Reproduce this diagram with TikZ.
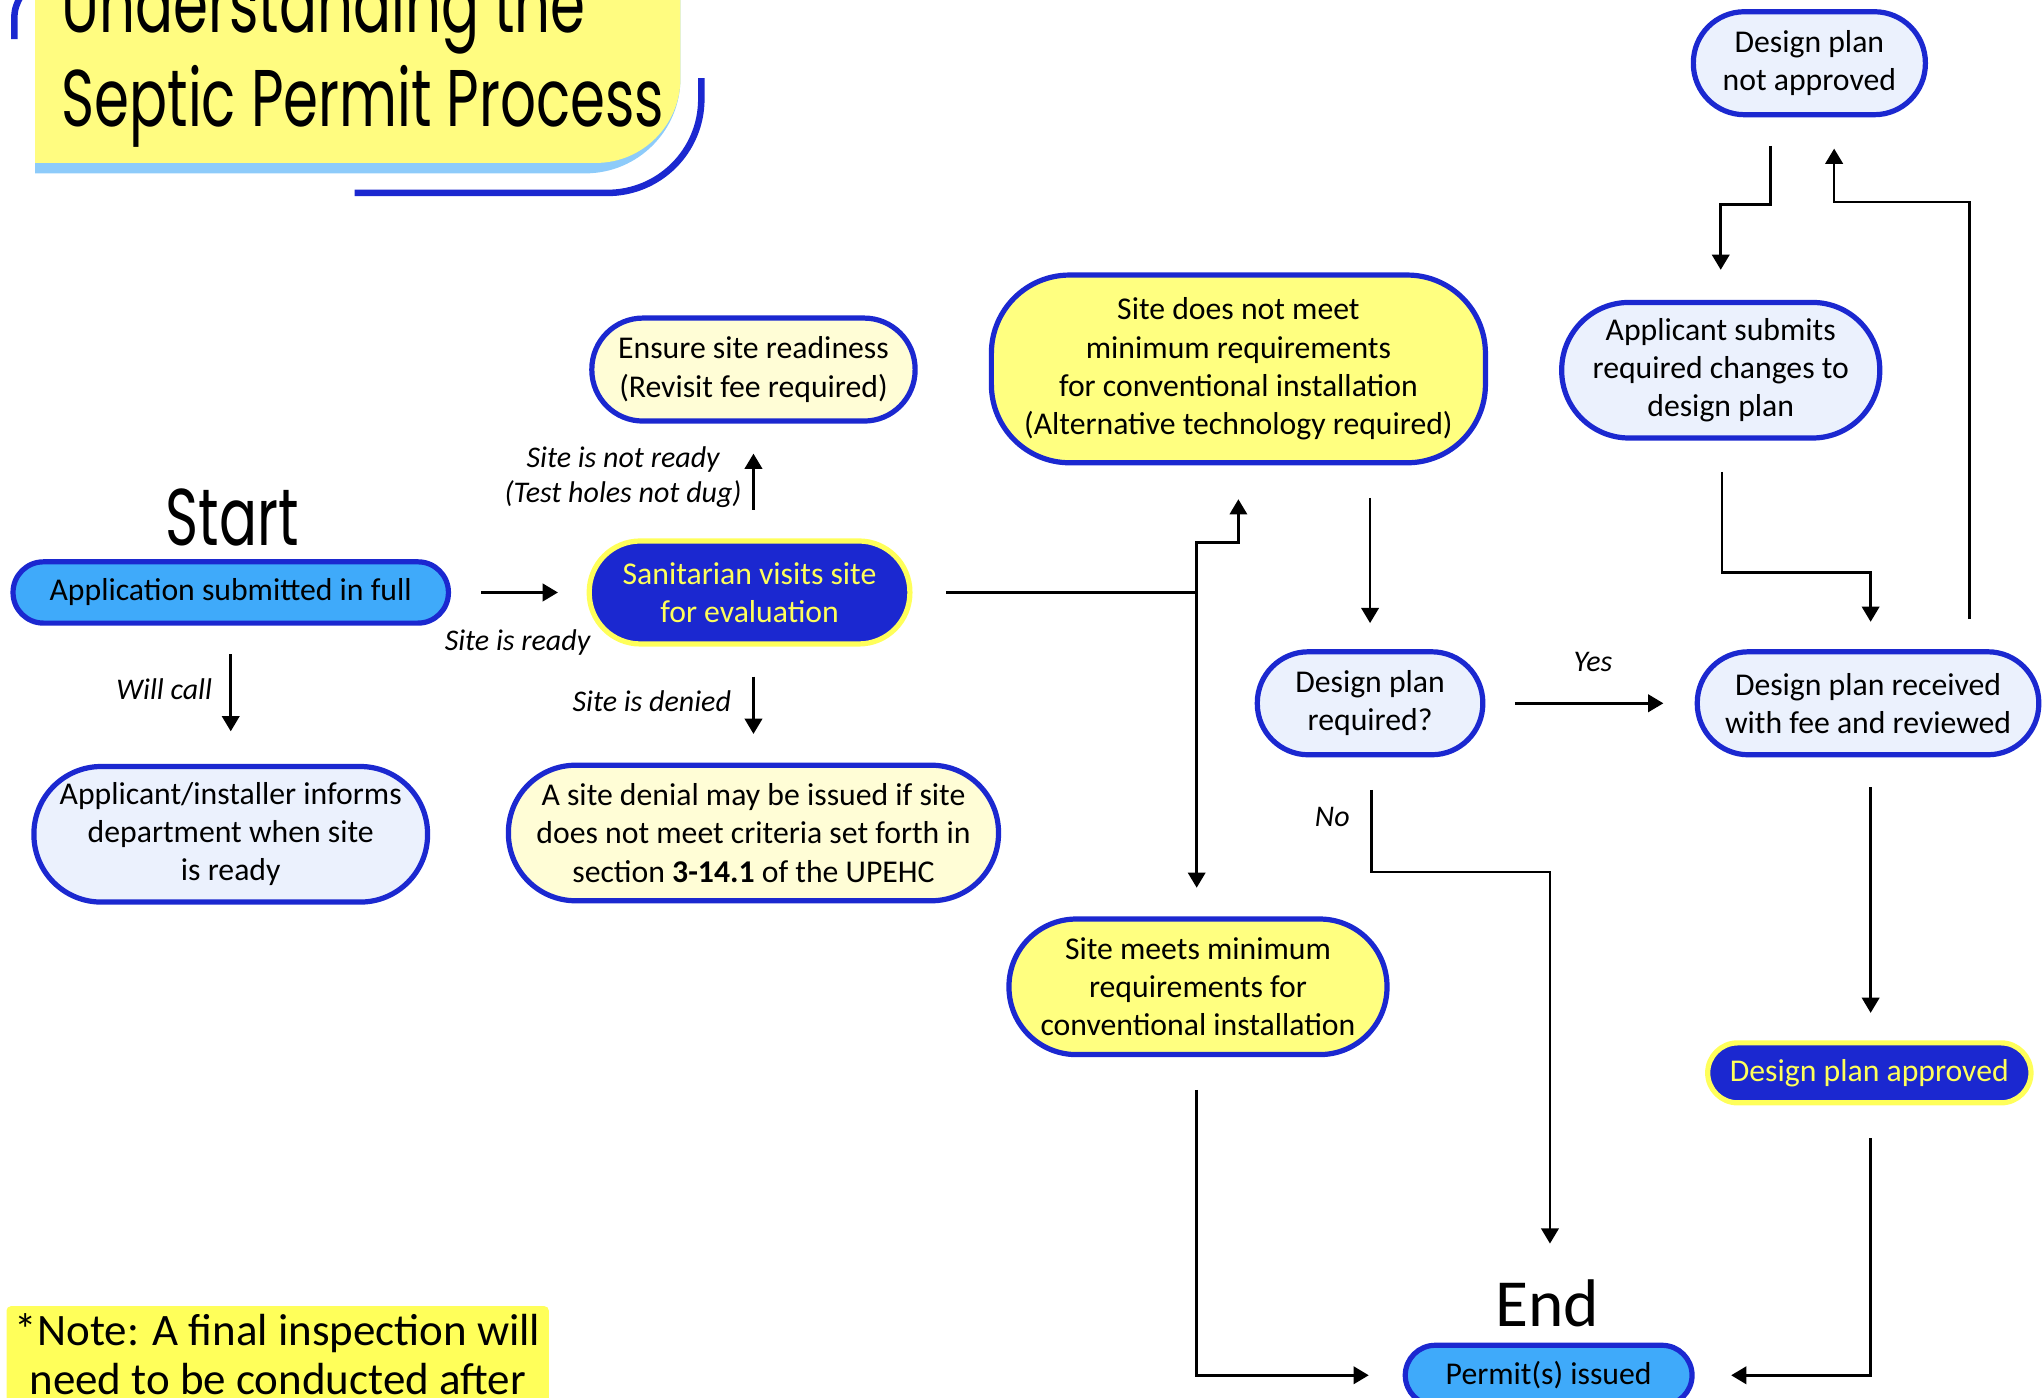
\documentclass[tikz,border=0pt]{standalone}
\usepackage{fontspec}
\setmainfont{Carlito}
\newfontfamily\titlefont[FakeStretch=0.70]{Poppins}
\usetikzlibrary{calc,arrows.meta}
\definecolor{dblue}{RGB}{27,40,208}
\definecolor{appblue}{RGB}{63,170,250}
\definecolor{paleblue}{RGB}{235,241,253}
\definecolor{paleyellow}{RGB}{255,253,214}
\definecolor{yfill}{RGB}{255,255,128}
\definecolor{byellow}{RGB}{255,255,90}
\definecolor{noteyellow}{RGB}{255,255,90}
\definecolor{tyellow}{RGB}{255,252,128}
\definecolor{tblue}{RGB}{141,203,250}
\begin{document}
\begin{tikzpicture}[x=0.6pt,y=-0.6pt,
  box/.style={draw=dblue, line width=2.4pt, rounded corners=#1, align=center, inner sep=0pt,
    font=\fontsize{14.6}{17.6}\selectfont},
  darkbox/.style={box=#1, draw=byellow, fill=dblue, text=byellow},
  lbl/.style={font=\fontsize{13.8}{16.5}\selectfont\itshape, align=center, inner sep=0pt},
  arr/.style={line width=1.2pt, -{Triangle[length=7pt,width=8pt]}},
  plain/.style={line width=1.2pt}]
\useasboundingbox (0,0) rectangle (1568,1072);
\clip (0,0) rectangle (1568,1072);

% title block
\fill[tblue] (27,-60) -- (27,133) -- (449,133) .. controls (489.3,133) and (522,100.3) .. (522,60) -- (522,-60) -- cycle;
\fill[tyellow] (27,-60) -- (27,125) -- (457,125) .. controls (492.9,125) and (522,95.9) .. (522,60) -- (522,-60) -- cycle;
\draw[dblue, line width=3pt] (272,148) -- (466,148) .. controls (505.8,148) and (538,115.8) .. (538,76) -- (538,60);
\draw[dblue, line width=3pt] (11,30) -- (11,14) .. controls (11,7) and (13,2) .. (16,-3);
\node[anchor=base west, inner sep=0pt, font=\titlefont\fontsize{37}{37}\selectfont] (t1) at (47,25) {Understanding the};
\node[anchor=base west, inner sep=0pt, font=\titlefont\fontsize{37}{37}\selectfont] (t2) at (47,97) {Septic Permit Process};

\node[inner sep=0pt, font=\titlefont\fontsize{37}{37}\selectfont] (start) at (178,397) {Start};
\node[inner sep=0pt, font=\fontsize{31}{31}\selectfont] (endl) at (1187,1000) {End};

% nodes
\node[box=14pt, fill=appblue, minimum width=200.4pt, minimum height=28.2pt] (app) at (177,454.5) {Application submitted in full};
\node[box=31pt, fill=paleblue, minimum width=181.2pt, minimum height=62.4pt] (inform) at (177,640) {Applicant/installer informs\\department when site\\is ready};
\node[box=23.5pt, fill=paleyellow, minimum width=148.8pt, minimum height=47.4pt] (ensure) at (578,283.5) {Ensure site readiness\\(Revisit fee required)};
\node[darkbox=23.5pt, minimum width=147.6pt, minimum height=47.4pt] (sanit) at (575,454.5) {Sanitarian visits site\\for evaluation};
\node[box=31pt, fill=paleyellow, minimum width=225.6pt, minimum height=62.4pt] (denial) at (578,639) {A site denial may be issued if site\\does not meet criteria set forth in\\section \textbf{3-14.1} of the UPEHC};
\node[box=36pt, fill=yfill, minimum width=227.4pt, minimum height=86.4pt] (notmeet) at (950,283) {Site does not meet\\minimum requirements\\for conventional installation\\(Alternative technology required)};
\node[box=31pt, fill=yfill, minimum width=174pt, minimum height=62.4pt] (meets) at (919,757) {Site meets minimum\\requirements for\\conventional installation};
\node[box=23.5pt, fill=paleblue, minimum width=103.8pt, minimum height=47.4pt] (dpreq) at (1051,539.5) {Design plan\\required?};
\node[box=23.5pt, fill=paleblue, minimum width=157.2pt, minimum height=47.4pt] (dprecv) at (1433,539.5) {Design plan received\\with fee and reviewed};
\node[box=23.5pt, fill=paleblue, minimum width=106.8pt, minimum height=47.4pt] (notappr) at (1388,48.5) {Design plan\\not approved};
\node[box=31pt, fill=paleblue, minimum width=146.4pt, minimum height=62.4pt] (submits) at (1320,284) {Applicant submits\\required changes to\\design plan};
\node[darkbox=13.8pt, minimum width=148.8pt, minimum height=27.6pt] (approved) at (1434,823) {Design plan approved};
\node[box=13.8pt, fill=appblue, minimum width=132pt, minimum height=27.6pt] (permit) at (1188,1055) {Permit(s) issued};

% note
\node[fill=noteyellow, rounded corners=2pt, minimum width=249.6pt, minimum height=52.8pt, inner sep=0pt] (notebox) at (213,1046) {};
\node[inner sep=0pt, align=center, font=\fontsize{20.7}{22.8}\selectfont] (note) at (213,1039) {*Note: A final inspection will\\need to be conducted after};

% labels
\node[lbl] (l1) at (397,493) {Site is ready};
\node[lbl] (l2) at (126,529) {Will call};
\node[lbl] (l3) at (478,366) {Site is not ready\\(Test holes not dug)};
\node[lbl] (l4) at (500,538) {Site is denied};
\node[lbl] (l5) at (1222,508) {Yes};
\node[lbl] (l6) at (1022,627) {No};

% connectors
\coordinate (split) at (918,454.5);
\draw[arr] ($(app.east)+(23,0)$) -- ($(sanit.west)+(-22,0)$);
\draw[arr] ($(app.south)+(0,22)$) -- ($(inform.north)+(0,-25)$);
\draw[arr] ($(sanit.north -| ensure.south)+(0,-22)$) -- ($(ensure.south)+(0,23)$);
\draw[arr] ($(sanit.south -| denial.north)+(0,23)$) -- ($(denial.north)+(0,-22)$);
\draw[plain] ($(sanit.east)+(26,0)$) -- (split);
\draw[arr] (split) -- ($(split |- meets.north)+(0,-22)$);
\draw[arr] (split) -- ++(0,-38.5) -| ($(notmeet.south)+(0,26)$);
\draw[arr] ($(notmeet.south -| dpreq.north)+(0,25)$) -- ($(dpreq.north)+(0,-20)$);
\draw[arr] ($(dpreq.east)+(22.5,0)$) -- ($(dprecv.west)+(-24,0)$);
\draw[arr] ($(dpreq.south)+(1,25)$) -- ++(0,63) -| ($(permit.north)+(1,-76)$);
\draw[arr] ($(notappr.south)+(-30,22)$) -- ++(0,45) -| ($(submits.north)+(0,-23)$);
\draw[arr] ($(submits.south)+(1,24)$) -- ++(0,77) -| ($(dprecv.north)+(2,-21)$);
\draw[arr] ($(dprecv.north)+(78,-23)$) -- ++(0,-320) -| ($(notappr.south)+(19,24)$);
\draw[arr] ($(dprecv.south)+(2,23)$) -- ($(approved.north)+(1,-21)$);
\draw[arr] ($(approved.south)+(1,25)$) |- ($(permit.east)+(28,0)$);
\draw[arr] ($(meets.south)+(-1,25)$) |- ($(permit.west)+(-26,0)$);
\end{tikzpicture}
\end{document}
